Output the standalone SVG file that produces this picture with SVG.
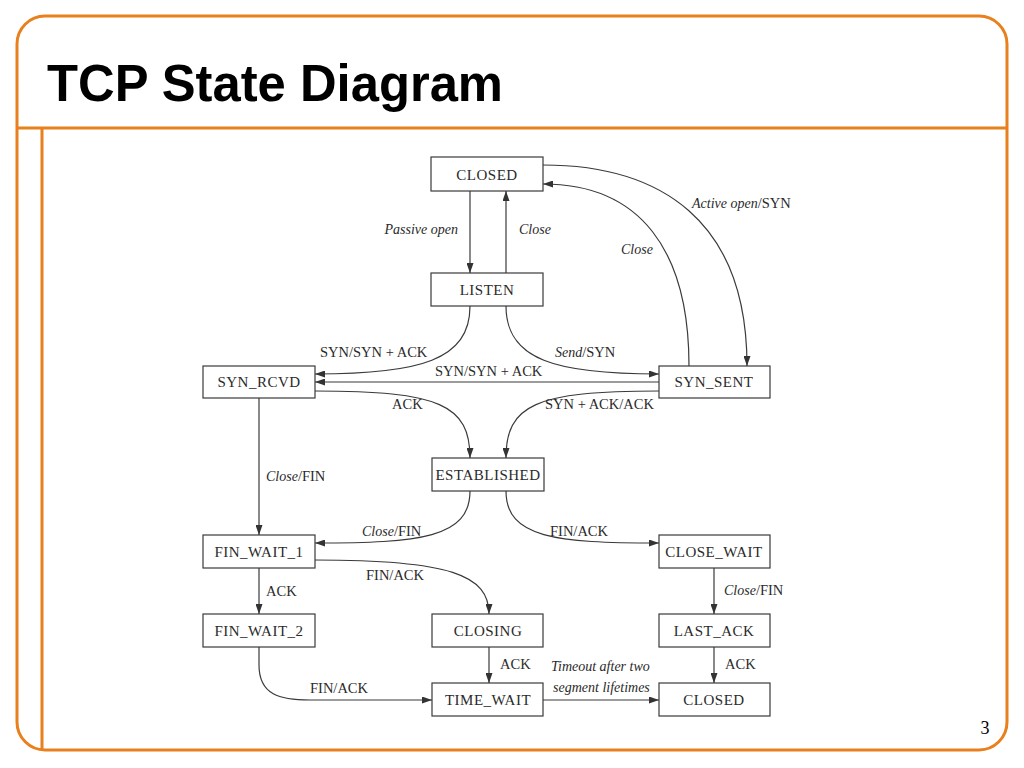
<svg xmlns="http://www.w3.org/2000/svg" width="1024" height="768" viewBox="0 0 1024 768">
<style>
.frame{fill:none;stroke:#E8801E;stroke-width:3}
.box rect{fill:#fff;stroke:#3a3a3a;stroke-width:1.2}
.box text{font-family:"Liberation Serif",serif;font-size:15px;fill:#2a2a2a;text-anchor:middle;letter-spacing:0.5px}
.conn path{fill:none;stroke:#3a3a3a;stroke-width:1.2;marker-end:url(#ah)}
.lbl{font-family:"Liberation Serif",serif;font-size:14.5px;fill:#2a2a2a}
.it{font-style:italic;font-size:14px}
</style>
<defs>
<marker id="ah" markerUnits="userSpaceOnUse" markerWidth="10" markerHeight="7" refX="10" refY="3.5" orient="auto">
<path d="M0,0 L10,3.5 L0,7 z" fill="#333"/>
</marker>
</defs>
<rect width="1024" height="768" fill="#fff"/>
<g id="frame">
<rect class="frame" x="17" y="16" width="990" height="734" rx="28" ry="28"/>
<line class="frame" x1="17" y1="128" x2="1007" y2="128"/>
<line class="frame" x1="42" y1="128" x2="42" y2="750"/>
<text x="47" y="101" font-family="'Liberation Sans',Arial,sans-serif" font-weight="bold" font-size="52" textLength="456" lengthAdjust="spacingAndGlyphs" fill="#000">TCP State Diagram</text>
<text x="985" y="734" font-family="'Liberation Serif',serif" font-size="18" text-anchor="middle" fill="#000">3</text>
</g>
<g id="connectors" class="conn">
<path d="M470,191 L470,273"/>
<path d="M506,273 L506,191"/>
<path d="M543,165 C660,165 747,220 747,366"/>
<path d="M689,366 C689,250 640,184 543,184"/>
<path d="M470,306 C470,360 420,374 315,374"/>
<path d="M506,306 C506,360 556,374 659,374"/>
<path d="M659,382 L315,382"/>
<path d="M315,391 C440,391 470,405 470,458"/>
<path d="M659,391 C535,391 506,405 506,458"/>
<path d="M259,398 L259,535"/>
<path d="M470,491 C470,538 420,543 315,543"/>
<path d="M506,491 C506,538 556,543 659,543"/>
<path d="M259,568 L259,614"/>
<path d="M315,560 C450,560 489,575 489,614"/>
<path d="M714,568 L714,614"/>
<path d="M489,647 L489,683"/>
<path d="M714,647 L714,683"/>
<path d="M259,647 L259,665 C259,695 280,700 310,700 L432,700"/>
<path d="M543,700 L659,700"/>
</g>
<g id="labels">
<text class="lbl it" x="458" y="234" text-anchor="end">Passive open</text>
<text class="lbl it" x="519" y="234">Close</text>
<text class="lbl" x="692" y="208"><tspan class="it">Active open</tspan>/SYN</text>
<text class="lbl it" x="621" y="254">Close</text>
<text class="lbl" x="320" y="357">SYN/SYN + ACK</text>
<text class="lbl" x="555" y="357"><tspan class="it">Send</tspan>/SYN</text>
<text class="lbl" x="435" y="376">SYN/SYN + ACK</text>
<text class="lbl" x="392" y="409">ACK</text>
<text class="lbl" x="545" y="409">SYN + ACK/ACK</text>
<text class="lbl" x="266" y="481"><tspan class="it">Close</tspan>/FIN</text>
<text class="lbl" x="362" y="536"><tspan class="it">Close</tspan>/FIN</text>
<text class="lbl" x="550" y="536">FIN/ACK</text>
<text class="lbl" x="266" y="596">ACK</text>
<text class="lbl" x="366" y="580">FIN/ACK</text>
<text class="lbl" x="724" y="595"><tspan class="it">Close</tspan>/FIN</text>
<text class="lbl" x="500" y="669">ACK</text>
<text class="lbl" x="725" y="669">ACK</text>
<text class="lbl" x="310" y="693">FIN/ACK</text>
<text class="lbl it" x="551" y="671">Timeout after two</text>
<text class="lbl it" x="553" y="692">segment lifetimes</text>
</g>
<g id="closed_top" class="box"><rect x="431" y="157" width="112" height="34"/><text x="487" y="180">CLOSED</text></g>
<g id="listen" class="box"><rect x="431" y="273" width="112" height="33"/><text x="487" y="295">LISTEN</text></g>
<g id="syn_rcvd" class="box"><rect x="203" y="366" width="112" height="32"/><text x="259" y="387">SYN_RCVD</text></g>
<g id="syn_sent" class="box"><rect x="659" y="366" width="111" height="32"/><text x="714" y="387">SYN_SENT</text></g>
<g id="established" class="box"><rect x="432" y="458" width="112" height="33"/><text x="488" y="480">ESTABLISHED</text></g>
<g id="fin_wait_1" class="box"><rect x="203" y="535" width="112" height="33"/><text x="259" y="557">FIN_WAIT_1</text></g>
<g id="close_wait" class="box"><rect x="659" y="535" width="111" height="33"/><text x="714" y="557">CLOSE_WAIT</text></g>
<g id="fin_wait_2" class="box"><rect x="203" y="614" width="112" height="33"/><text x="259" y="636">FIN_WAIT_2</text></g>
<g id="closing" class="box"><rect x="432" y="614" width="111" height="33"/><text x="488" y="636">CLOSING</text></g>
<g id="last_ack" class="box"><rect x="659" y="614" width="111" height="33"/><text x="714" y="636">LAST_ACK</text></g>
<g id="time_wait" class="box"><rect x="432" y="683" width="111" height="33"/><text x="488" y="705">TIME_WAIT</text></g>
<g id="closed_bottom" class="box"><rect x="659" y="683" width="111" height="33"/><text x="714" y="705">CLOSED</text></g>
</svg>
